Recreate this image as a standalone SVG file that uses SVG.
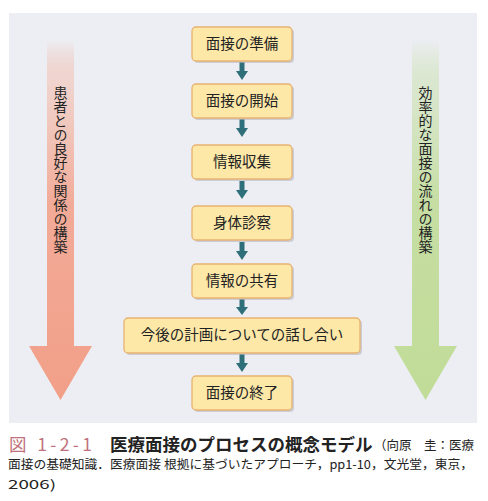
<svg xmlns="http://www.w3.org/2000/svg" width="488" height="501" viewBox="0 0 488 501">
<style>
.box{fill:#fde8a8;stroke:#e9b271;stroke-width:1.3}
.shadow{fill:#b8b8c0;opacity:0.6}
.bt{font-family:"Noto Sans CJK JP","Noto Sans CJK SC",sans-serif;font-size:14.5px;fill:#222;text-anchor:middle}
.vt{font-family:"Noto Sans CJK JP","Noto Sans CJK SC",sans-serif;font-size:14px;fill:#222;text-anchor:middle;writing-mode:vertical-rl}
.conn{fill:#2e6f7a}
.cap{font-family:"Noto Sans CJK JP","Noto Sans CJK SC",sans-serif;fill:#222}
</style>
<defs>
<linearGradient id="gl" x1="0" y1="40" x2="0" y2="400" gradientUnits="userSpaceOnUse">
<stop offset="0" stop-color="#f29f88" stop-opacity="0"/>
<stop offset="0.12" stop-color="#f2c8bc" stop-opacity="0.7"/>
<stop offset="0.45" stop-color="#f2ab98"/>
<stop offset="1" stop-color="#f29f88"/>
</linearGradient>
<linearGradient id="gr" x1="0" y1="40" x2="0" y2="400" gradientUnits="userSpaceOnUse">
<stop offset="0" stop-color="#c1dc98" stop-opacity="0"/>
<stop offset="0.12" stop-color="#d2e4bf" stop-opacity="0.7"/>
<stop offset="0.45" stop-color="#c6dea3"/>
<stop offset="1" stop-color="#c1dc98"/>
</linearGradient>
</defs>
<rect x="0" y="0" width="488" height="501" fill="#ffffff"/>
<rect x="9" y="13" width="468" height="410" fill="#eceef3"/>

<g id="left-arrow">
<path d="M47 40 H74 V346 H92 L60.5 400 L29 346 H47 Z" fill="url(#gl)"/>
<text class="vt" x="60.5" y="170">患者との良好な関係の構築</text>
</g>
<g id="right-arrow">
<path d="M412 40 H439 V346 H457 L425.5 400 L394 346 H412 Z" fill="url(#gr)"/>
<text class="vt" x="425.5" y="170">効率的な面接の流れの構築</text>
</g>

<g id="connectors">
<path class="conn" d="M239.5 62 h5 v9 h3.5 l-6 9 l-6 -9 h3.5 Z"/>
<path class="conn" d="M239.5 119 h5 v9 h3.5 l-6 9 l-6 -9 h3.5 Z"/>
<path class="conn" d="M239.5 181 h5 v9 h3.5 l-6 9 l-6 -9 h3.5 Z"/>
<path class="conn" d="M239.5 242 h5 v9 h3.5 l-6 9 l-6 -9 h3.5 Z"/>
<path class="conn" d="M239.5 299 h5 v8 h3.5 l-6 8 l-6 -8 h3.5 Z"/>
<path class="conn" d="M239.5 354 h5 v9 h3.5 l-6 9 l-6 -9 h3.5 Z"/>
</g>

<g id="n1"><rect class="shadow" x="194" y="29" width="100" height="34" rx="4"/><rect class="box" x="192" y="27" width="100" height="34" rx="4"/><text class="bt" x="242" y="49">面接の準備</text></g>
<g id="n2"><rect class="shadow" x="194" y="86" width="100" height="34" rx="4"/><rect class="box" x="192" y="84" width="100" height="34" rx="4"/><text class="bt" x="242" y="106">面接の開始</text></g>
<g id="n3"><rect class="shadow" x="194" y="147" width="100" height="34" rx="4"/><rect class="box" x="192" y="145" width="100" height="34" rx="4"/><text class="bt" x="242" y="167">情報収集</text></g>
<g id="n4"><rect class="shadow" x="194" y="208" width="100" height="34" rx="4"/><rect class="box" x="192" y="206" width="100" height="34" rx="4"/><text class="bt" x="242" y="228">身体診察</text></g>
<g id="n5"><rect class="shadow" x="194" y="266" width="100" height="34" rx="4"/><rect class="box" x="192" y="264" width="100" height="34" rx="4"/><text class="bt" x="242" y="286">情報の共有</text></g>
<g id="n6"><rect class="shadow" x="126" y="320" width="236" height="35" rx="4"/><rect class="box" x="124" y="318" width="236" height="35" rx="4"/><text class="bt" x="242" y="340">今後の計画についての話し合い</text></g>
<g id="n7"><rect class="shadow" x="194" y="378" width="100" height="34" rx="4"/><rect class="box" x="192" y="376" width="100" height="34" rx="4"/><text class="bt" x="242" y="398">面接の終了</text></g>

<g id="caption">
<text class="cap" x="9" y="451" font-size="17.5" style="fill:#c0727c" textLength="83" lengthAdjust="spacing">図 1-2-1</text>
<text class="cap" x="110" y="451" font-size="17.5" font-weight="bold">医療面接のプロセスの概念モデル</text>
<text class="cap" x="374" y="450" font-size="12.5">（向原　圭：医療</text>
<text class="cap" x="8" y="469" font-size="12.5" textLength="465" lengthAdjust="spacingAndGlyphs">面接の基礎知識．医療面接 根拠に基づいたアプローチ，pp1-10，文光堂，東京，</text>
<text class="cap" x="8" y="489" font-size="12.5" textLength="48" lengthAdjust="spacingAndGlyphs">2006)</text>
</g>
</svg>
